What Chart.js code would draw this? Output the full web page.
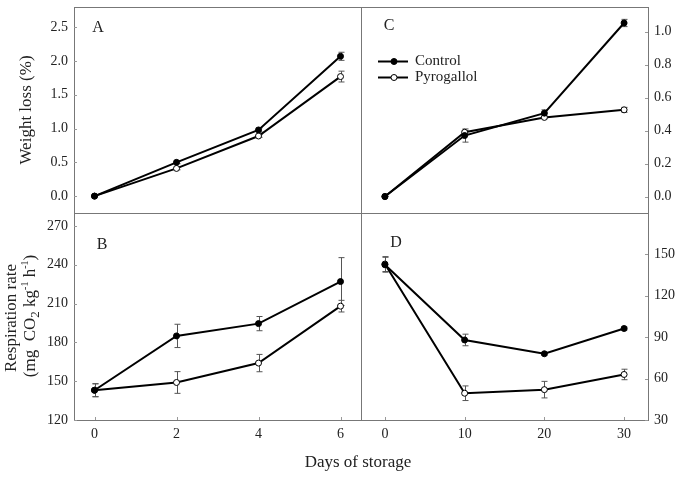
<!DOCTYPE html>
<html>
<head>
<meta charset="utf-8">
<script src="https://cdn.jsdelivr.net/npm/chart.js@4"></script>
<style>
  body { margin: 0; background: #fff; }
  #wrap { position: relative; width: 685px; height: 477px; font-family: "Liberation Serif", "Times New Roman", serif; color: #222; }
  #wrap canvas { position: absolute; left: 0; top: 0; }
  .lbl { position: absolute; white-space: nowrap; font-size: 16px; line-height: 16px; }
  .rot { transform: translate(-50%, -50%) rotate(-90deg); }
  .ctr { transform: translate(-50%, -50%); }
</style>
</head>
<body>
<div id="wrap">
  <canvas id="cA" width="685" height="477"></canvas>
  <canvas id="cB" width="685" height="477"></canvas>
  <canvas id="cC" width="685" height="477"></canvas>
  <canvas id="cD" width="685" height="477"></canvas>
  <div class="lbl rot" style="left:26px; top:110px; font-size:17px;">Weight loss (%)</div>
  <div class="lbl rot" style="left:11px; top:318px; font-size:17px;">Respiration rate</div>
  <div class="lbl rot" style="left:30px; top:316px; font-size:17px;">(mg&nbsp; CO<sub style="font-size:13px">2</sub> kg<sup style="font-size:10px">-1</sup> h<sup style="font-size:10px">-1</sup>)</div>
  <div class="lbl ctr" style="left:358px; top:462px; font-size:17px;">Days of storage</div>
  <div class="lbl ctr" style="left:98px; top:27px;">A</div>
  <div class="lbl ctr" style="left:102px; top:244px;">B</div>
  <div class="lbl ctr" style="left:389px; top:25px;">C</div>
  <div class="lbl ctr" style="left:396px; top:242px;">D</div>
</div>
<script>
// short storage (days) - panels A and B
var daysShort = [0, 2, 4, 6];
// long storage (days) - panels C and D
var daysLong = [0, 10, 20, 30];

// A: weight loss (%)
var weightCtrlA = [0, 0.50, 0.98, 2.07];
var weightCtrlAErr = [0, 0.02, 0.03, 0.06];
var weightPyroA = [0, 0.41, 0.89, 1.77];
var weightPyroAErr = [0, 0.02, 0.02, 0.08];

// C: weight loss (%)
var weightCtrlC = [0, 0.37, 0.506, 1.053];
var weightCtrlCErr = [0, 0.04, 0.02, 0.022];
var weightPyroC = [0, 0.39, 0.48, 0.526];
var weightPyroCErr = [0, 0.01, 0.008, 0.015];

// B: respiration rate
var respCtrlB = [143, 185, 194.5, 227];
var respCtrlBErr = [5, 9, 5.5, 18.5];
var respPyroB = [143, 149, 164, 208];
var respPyroBErr = [5, 8.4, 6.7, 4.5];

// D: respiration rate
var respCtrlD = [142.5, 88, 78, 96.3];
var respCtrlDErr = [5.4, 4.2, 1, 1];
var respPyroD = [143, 49.4, 52, 63];
var respPyroDErr = [5.4, 5.3, 6, 3.8];

// tick labels
var ticksWeightA = [0, 0.5, 1.0, 1.5, 2.0, 2.5];
var ticksWeightC = [0, 0.2, 0.4, 0.6, 0.8, 1.0];
var ticksRespB = [120, 150, 180, 210, 240, 270];
var ticksRespD = [30, 60, 90, 120, 150];

var seriesNames = ['Control', 'Pyrogallol'];
var FONT = '"Liberation Serif", "Times New Roman", serif';
var W = 685, H = 477;

function pts(xs, ys) {
    return xs.map(function(x, i) { return { x: x, y: ys[i] }; });
}

// frame, inward tick marks and error bars
var panelPlugin = {
    id: 'panelPlugin',
    beforeDatasetsDraw: function(chart) {
        var ctx = chart.ctx;
        var errs = chart.options.plugins.panelPlugin.errors;
        ctx.save();
        ctx.strokeStyle = '#555';
        ctx.lineWidth = 1;
        chart.data.datasets.forEach(function(ds, di) {
            ds.data.forEach(function(p, i) {
                var e = errs[di][i];
                if (!e) return;
                var x = Math.round(chart.scales.x.getPixelForValue(p.x)) + 0.5;
                var y1 = chart.scales.y.getPixelForValue(p.y + e);
                var y2 = chart.scales.y.getPixelForValue(p.y - e);
                ctx.beginPath();
                ctx.moveTo(x, y1); ctx.lineTo(x, y2);
                ctx.moveTo(x - 3, y1); ctx.lineTo(x + 3, y1);
                ctx.moveTo(x - 3, y2); ctx.lineTo(x + 3, y2);
                ctx.stroke();
            });
        });
        ctx.restore();
    },
    afterDraw: function(chart) {
        var ctx = chart.ctx;
        var a = chart.chartArea;
        var o = chart.options.plugins.panelPlugin;
        ctx.save();
        ctx.strokeStyle = '#777';
        ctx.lineWidth = 1;
        ctx.strokeRect(Math.round(a.left) + 0.5, Math.round(a.top) + 0.5,
            Math.round(a.right - a.left), Math.round(a.bottom - a.top));
        ctx.strokeStyle = '#999';
        ctx.beginPath();
        var ys = chart.scales.y;
        ys.ticks.forEach(function(t) {
            var y = Math.round(ys.getPixelForValue(t.value)) + 0.5;
            if (o.yRight) { ctx.moveTo(a.right, y); ctx.lineTo(a.right - 3, y); }
            else { ctx.moveTo(a.left, y); ctx.lineTo(a.left + 3, y); }
        });
        if (o.showX) {
            var xs = chart.scales.x;
            xs.ticks.forEach(function(t) {
                var x = Math.round(xs.getPixelForValue(t.value)) + 0.5;
                ctx.moveTo(x, a.bottom); ctx.lineTo(x, a.bottom - 3);
            });
        }
        ctx.stroke();
        if (o.legend) {
            var rows = [[61.5, true], [77.5, false]];
            rows.forEach(function(r, i) {
                ctx.strokeStyle = '#000';
                ctx.lineWidth = 2;
                ctx.beginPath();
                ctx.moveTo(378, r[0]); ctx.lineTo(408, r[0]);
                ctx.stroke();
                ctx.beginPath();
                ctx.arc(394, r[0], 3, 0, Math.PI * 2);
                ctx.fillStyle = r[1] ? '#000' : '#fff';
                ctx.fill();
                ctx.lineWidth = 1;
                ctx.stroke();
                ctx.fillStyle = '#222';
                ctx.font = '15px ' + FONT;
                ctx.textBaseline = 'middle';
                ctx.fillText(seriesNames[i], 415, r[0]);
            });
        }
        ctx.restore();
    }
};

function makePanel(id, cfg) {
    var yW = 40, xH = 30;
    var pad = {
        top: cfg.area.top,
        left: cfg.yRight ? cfg.area.left : cfg.area.left - yW,
        right: cfg.yRight ? W - cfg.area.right - yW : W - cfg.area.right,
        bottom: cfg.showX ? H - cfg.area.bottom - xH : H - cfg.area.bottom
    };
    return new Chart(document.getElementById(id).getContext('2d'), {
        type: 'line',
        data: {
            datasets: [{
                label: seriesNames[0],
                data: pts(cfg.days, cfg.ctrl),
                borderColor: '#000',
                borderWidth: 2,
                pointRadius: 3,
                pointBackgroundColor: '#000',
                pointBorderColor: '#000',
                pointBorderWidth: 1
            }, {
                label: seriesNames[1],
                data: pts(cfg.days, cfg.pyro),
                borderColor: '#000',
                borderWidth: 2,
                pointRadius: 3,
                pointBackgroundColor: '#fff',
                pointBorderColor: '#000',
                pointBorderWidth: 1
            }]
        },
        options: {
            responsive: false,
            animation: false,
            devicePixelRatio: 1,
            layout: { padding: pad },
            plugins: {
                legend: { display: false },
                tooltip: { enabled: false },
                panelPlugin: { errors: [cfg.ctrlErr, cfg.pyroErr], yRight: cfg.yRight, showX: cfg.showX, legend: cfg.legend }
            },
            scales: {
                x: {
                    type: 'linear',
                    min: cfg.xMin, max: cfg.xMax,
                    display: cfg.showX,
                    grid: { display: false, drawTicks: false },
                    border: { display: false },
                    afterBuildTicks: function(s) { s.ticks = cfg.days.map(function(v) { return { value: v }; }); },
                    afterFit: function(s) {
                        s.height = cfg.showX ? xH : 0;
                        s.paddingLeft = 0; s.paddingRight = 0;
                    },
                    ticks: { font: { family: FONT, size: 14 }, color: '#222', padding: 6, maxRotation: 0 }
                },
                y: {
                    type: 'linear',
                    position: cfg.yRight ? 'right' : 'left',
                    min: cfg.yMin, max: cfg.yMax,
                    grid: { display: false, drawTicks: false },
                    border: { display: false },
                    afterBuildTicks: function(s) { s.ticks = cfg.yTicks.map(function(v) { return { value: v }; }); },
                    afterFit: function(s) {
                        s.width = yW;
                        s.paddingTop = 0; s.paddingBottom = 0;
                    },
                    ticks: {
                        font: { family: FONT, size: 14 }, color: '#222', padding: 6,
                        callback: function(v) { return cfg.dec ? v.toFixed(cfg.dec) : v; }
                    }
                }
            }
        },
        plugins: [panelPlugin]
    });
}

window.onload = function() {
    makePanel('cA', {
        area: { left: 74, top: 7, right: 361, bottom: 213 },
        days: daysShort, xMin: -0.5, xMax: 6.5,
        yMin: -0.25, yMax: 2.8, yTicks: ticksWeightA, dec: 1,
        ctrl: weightCtrlA, pyro: weightPyroA, ctrlErr: weightCtrlAErr, pyroErr: weightPyroAErr,
        yRight: false, showX: false
    });
    makePanel('cB', {
        area: { left: 74, top: 213, right: 361, bottom: 420 },
        days: daysShort, xMin: -0.5, xMax: 6.5,
        yMin: 120, yMax: 280, yTicks: ticksRespB, dec: 0,
        ctrl: respCtrlB, pyro: respPyroB, ctrlErr: respCtrlBErr, pyroErr: respPyroBErr,
        yRight: false, showX: true
    });
    makePanel('cC', {
        area: { left: 361, top: 7, right: 648, bottom: 213 },
        days: daysLong, xMin: -3, xMax: 33,
        yMin: -0.1, yMax: 1.15, yTicks: ticksWeightC, dec: 1,
        ctrl: weightCtrlC, pyro: weightPyroC, ctrlErr: weightCtrlCErr, pyroErr: weightPyroCErr,
        yRight: true, showX: false, legend: true
    });
    makePanel('cD', {
        area: { left: 361, top: 213, right: 648, bottom: 420 },
        days: daysLong, xMin: -3, xMax: 33,
        yMin: 30, yMax: 180, yTicks: ticksRespD, dec: 0,
        ctrl: respCtrlD, pyro: respPyroD, ctrlErr: respCtrlDErr, pyroErr: respPyroDErr,
        yRight: true, showX: true
    });
};
</script>
</body>
</html>
